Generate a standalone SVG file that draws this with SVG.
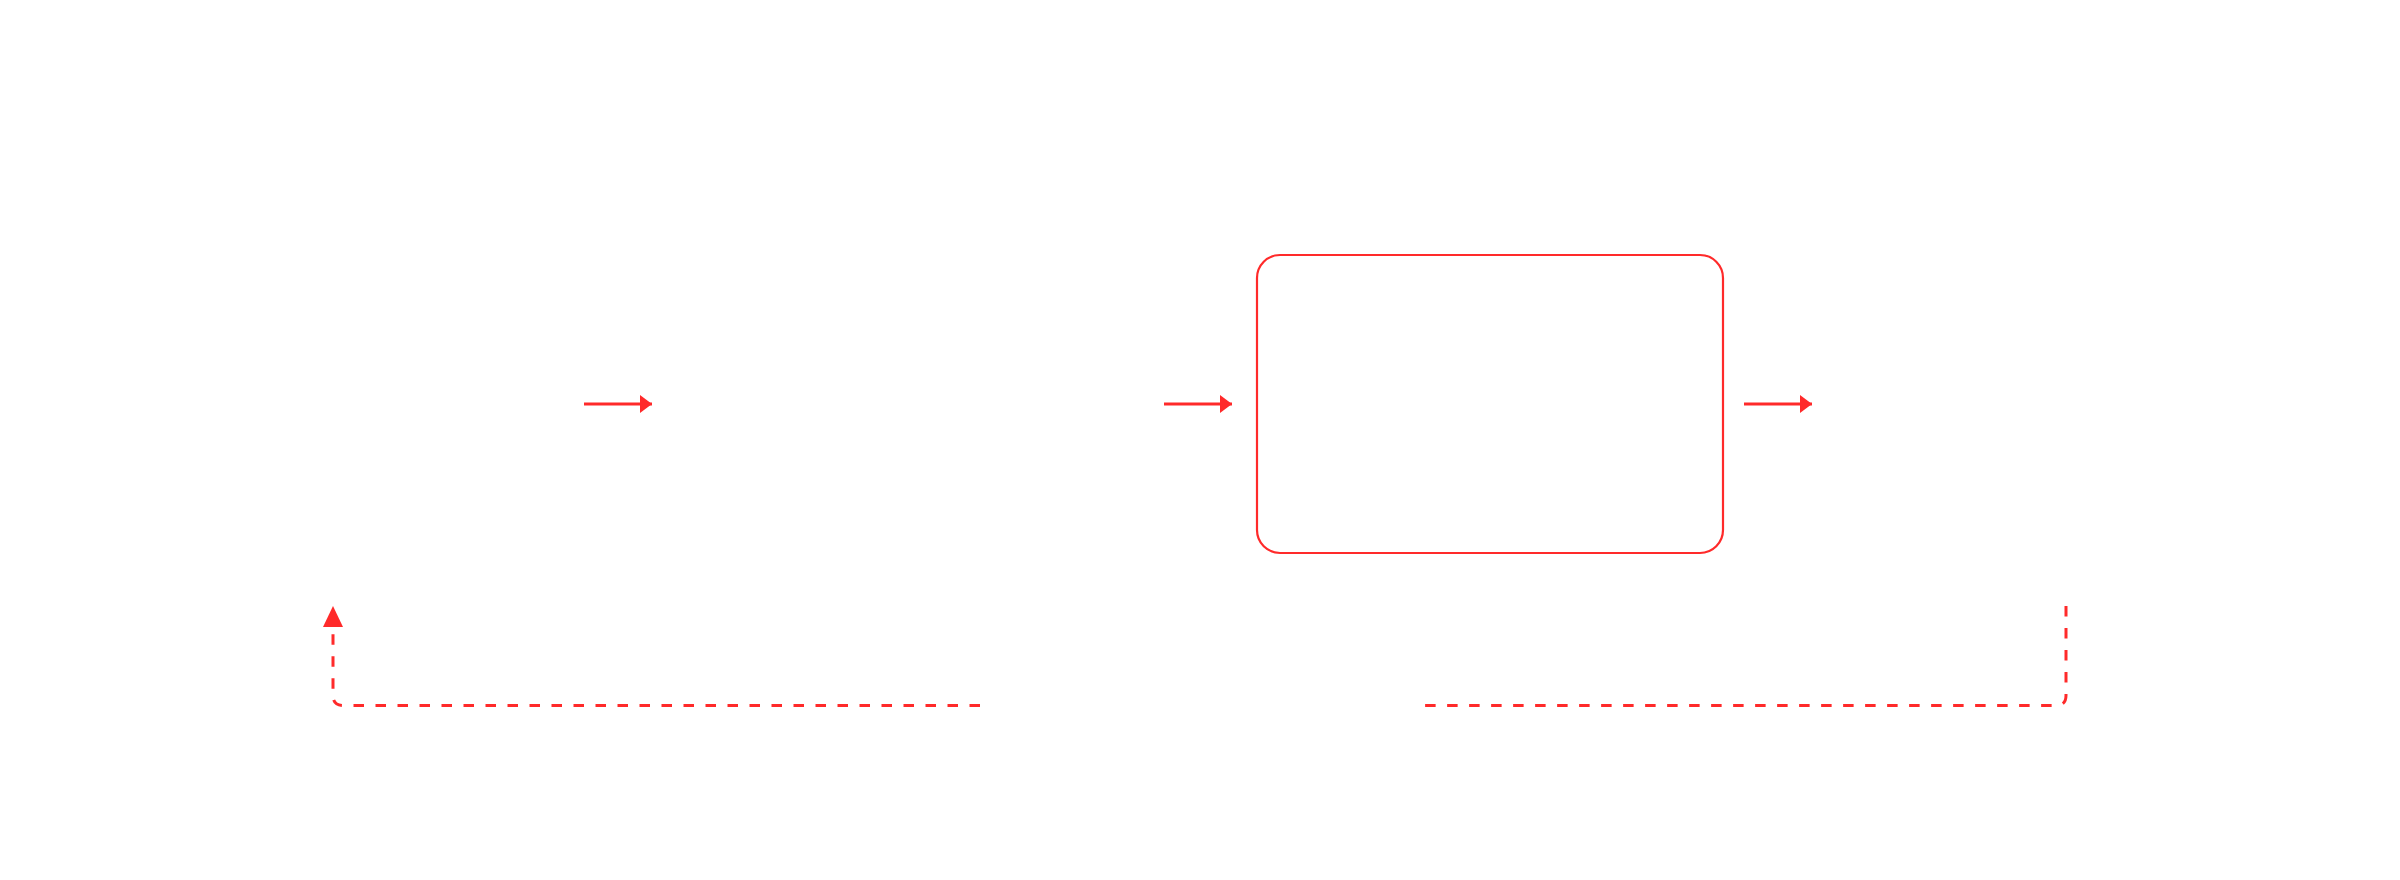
<svg xmlns="http://www.w3.org/2000/svg" width="2400" height="880" viewBox="0 0 2400 880">
  <style>
    .node { fill: #ffffff; stroke: #ff2a2a; stroke-width: 2.2; }
    .edge { fill: none; stroke: #ff2a2a; stroke-width: 3; }
    .dashed { stroke-dasharray: 10.5 11.5; }
  </style>
  <defs>
    <marker id="arrowSolid" markerUnits="userSpaceOnUse" markerWidth="14" markerHeight="20" refX="12" refY="9" orient="auto">
      <path d="M0,0 L12,9 L0,18 Z" fill="#ff2a2a"/>
    </marker>
    <marker id="arrowDash" markerUnits="userSpaceOnUse" markerWidth="24" markerHeight="22" refX="21" refY="10" orient="auto">
      <path d="M0,0 L21,10 L0,20 Z" fill="#ff2a2a"/>
    </marker>
  </defs>
  <rect width="2400" height="880" fill="#ffffff"/>
  <g id="node-process">
    <rect class="node" x="1257" y="255" width="466" height="298" rx="23" ry="23"/>
  </g>
  <g id="connectors">
    <path class="edge" d="M584,404 L652,404" marker-end="url(#arrowSolid)"/>
    <path class="edge" d="M1164,404 L1232,404" marker-end="url(#arrowSolid)"/>
    <path class="edge" d="M1744,404 L1812,404" marker-end="url(#arrowSolid)"/>
    <path class="edge dashed" d="M980,705.5 L343,705.5 Q333,705.5 333,695.5 L333,606" marker-end="url(#arrowDash)"/>
    <path class="edge dashed" d="M2066,606 L2066,695.5 Q2066,705.5 2056,705.5 L1421,705.5"/>
  </g>
</svg>
